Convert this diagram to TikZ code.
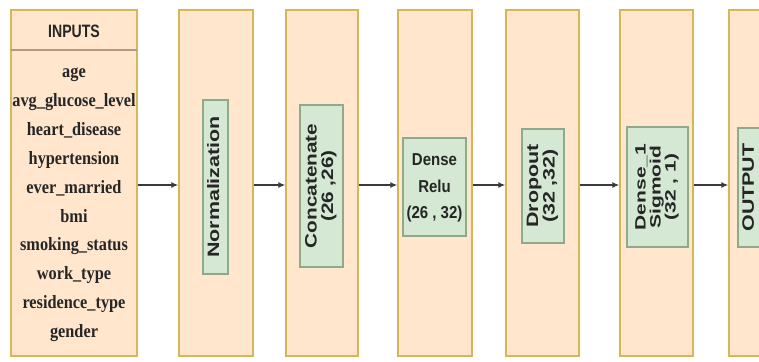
\documentclass[tikz,border=0pt]{standalone}
\usepackage{fontspec}
\setmainfont{Liberation Serif}
\setsansfont{Liberation Sans}
\usepackage{graphicx}
\usetikzlibrary{arrows.meta}
\definecolor{colfill}{HTML}{FFE6CC}
\definecolor{colstroke}{HTML}{D6B656}
\definecolor{gfill}{HTML}{D5E8D4}
\definecolor{gstroke}{HTML}{8FAA8A}
\definecolor{hdrline}{HTML}{B09A82}
\definecolor{arrowc}{HTML}{3A3A3A}
\newcommand{\vlab}[2]{\scalebox{#1}[1]{\begin{tabular}{@{}c@{}}#2\end{tabular}}}
\begin{document}
\begin{tikzpicture}[x=1pt,y=-1pt,
  colbox/.style={draw=colstroke,fill=colfill,line width=1.3pt,minimum width=#1,minimum height=346,inner sep=0pt},
  gbox/.style={draw=gstroke,fill=gfill,line width=1.1pt,inner sep=0pt},
  vtext/.style={rotate=90,inner sep=0pt,font=\sffamily\bfseries\fontsize{16.5}{15.5}\selectfont,text=black!85},
  htext/.style={inner sep=0pt,font=\sffamily\bfseries\fontsize{15}{23}\selectfont,text=black!85},
  itemtext/.style={inner sep=0pt,anchor=base,font=\rmfamily\bfseries\fontsize{16.3}{20}\selectfont,text=black!85},
  flow/.style={draw=arrowc,line width=1.4pt,-{Latex[length=7pt,width=6pt]}}]
\useasboundingbox (0,0) rectangle (759,361);
\clip (0,0) rectangle (759,361);
\fill[white] (0,0) rectangle (759,361);
% columns
\node[colbox=126] (inp) at (74,183) {};
\node[colbox=74] (c1) at (216,183) {};
\node[colbox=72] (c2) at (322,183) {};
\node[colbox=74] (c3) at (435,183) {};
\node[colbox=73] (c4) at (542.5,183) {};
\node[colbox=73] (c5) at (656.5,183) {};
\node[colbox=74] (c6) at (766,183) {};
% inputs header
\coordinate (hl) at (11,50);
\coordinate (hr) at (137,50);
\draw[hdrline,line width=1.3pt] (hl) -- (hr);
\node[inner sep=0pt,font=\sffamily\bfseries\fontsize{16}{18}\selectfont,text=black!85] (inhdr) at (74,31) {\scalebox{0.88}[1.12]{INPUTS}};
\foreach \t [count=\i] in {age,avg\_glucose\_level,heart\_disease,hypertension,ever\_married,bmi,smoking\_status,work\_type,residence\_type,gender}{
  \node[itemtext] (in\i) at (74,{77.5+28.9*(\i-1)}) {\scalebox{1}[1.15]{\t}};
}
% inner boxes
\node[gbox,minimum width=25,minimum height=174] (n1) at (215.5,187) {};
\node[gbox,minimum width=43,minimum height=162] (n2) at (321.5,186) {};
\node[gbox,minimum width=63,minimum height=98] (n3) at (434.5,187) {};
\node[gbox,minimum width=42,minimum height=114] (n4) at (543,186) {};
\node[gbox,minimum width=61,minimum height=120] (n5) at (657.5,187) {};
\node[gbox,minimum width=25,minimum height=119] (n6) at (750.5,187.5) {};
% labels
\node[vtext] (t1) at (n1) {\vlab{1.3}{Normalization}};
\node[vtext] (t2) at (n2) {\vlab{1.26}{Concatenate\\(26 ,26)}};
\node[htext] (t3) at (n3) {\scalebox{1}[1.15]{\begin{tabular}{@{}c@{}}Dense\\Relu\\(26 , 32)\end{tabular}}};
\node[vtext] (t4) at (n4) {\vlab{1.3}{Dropout\\(32 ,32)}};
\node[vtext,font=\sffamily\bfseries\fontsize{15}{14}\selectfont] (t5) at (n5) {\vlab{1.4}{Dense\_1\\Sigmoid\\(32 , 1)}};
\node[vtext] (t6) at (n6) {\vlab{1.3}{OUTPUT}};
% arrows
\draw[flow] ([yshift=-2]inp.east) -- ([yshift=-2]c1.west);
\draw[flow] ([yshift=-2]c1.east) -- ([yshift=-2]c2.west);
\draw[flow] ([yshift=-2]c2.east) -- ([yshift=-2]c3.west);
\draw[flow] ([yshift=-2]c3.east) -- ([yshift=-2]c4.west);
\draw[flow] ([yshift=-2]c4.east) -- ([yshift=-2]c5.west);
\draw[flow] ([yshift=-2]c5.east) -- ([yshift=-2]c6.west);
\end{tikzpicture}
\end{document}
